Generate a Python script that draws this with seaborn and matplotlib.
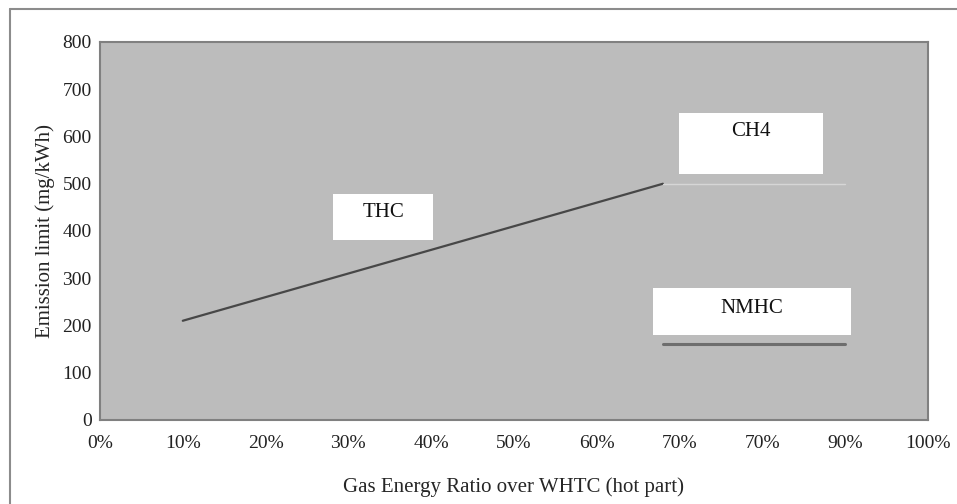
import matplotlib
matplotlib.use("Agg")
import matplotlib.pyplot as plt
import matplotlib.patches as mpatches
from matplotlib.lines import Line2D
import seaborn as sns
import pandas as pd

# data
thc_x = [0.10, 0.68]
thc_y = [210, 500]
ch4_x = [0.68, 0.90]
ch4_y = [500, 500]
nmhc_x = [0.68, 0.90]
nmhc_y = [160, 160]

x_ticks = [0.0, 0.1, 0.2, 0.3, 0.4, 0.5, 0.6, 0.7, 0.8, 0.9, 1.0]
x_labels = ["0%", "10%", "20%", "30%", "40%", "50%", "60%", "70%", "70%", "90%", "100%"]
y_ticks = [0, 100, 200, 300, 400, 500, 600, 700, 800]

df = pd.concat([
    pd.DataFrame({"x": thc_x, "y": thc_y, "series": "THC"}),
    pd.DataFrame({"x": ch4_x, "y": ch4_y, "series": "CH4"}),
    pd.DataFrame({"x": nmhc_x, "y": nmhc_y, "series": "NMHC"}),
])

sns.set_style("white")
plt.rcParams["font.family"] = ["Liberation Serif", "DejaVu Serif"]

fig = plt.figure(figsize=(9.57, 5.04), dpi=100)
ax = fig.add_axes([0.1045, 0.1667, 0.865, 0.75])
ax.set_facecolor("#bcbcbc")

styles = {"THC": ("#474747", 1.6), "CH4": ("#d6d6d6", 1.0), "NMHC": ("#6e6e6e", 2.2)}
for name, (col, lw) in styles.items():
    sns.lineplot(data=df[df["series"] == name], x="x", y="y", color=col,
                 linewidth=lw, ax=ax, legend=False)

ax.set_xlim(0, 1)
ax.set_ylim(0, 800)
ax.set_xticks(x_ticks)
ax.set_xticklabels(x_labels)
ax.set_yticks(y_ticks)
ax.tick_params(axis="both", labelsize=14, colors="#222222", length=4,
               width=1, direction="out", color="#777777")
ax.tick_params(axis="x", pad=7)
ax.tick_params(axis="y", pad=2)
for sp in ax.spines.values():
    sp.set_color("#808080")
    sp.set_linewidth(1.5)

ax.set_xlabel("Gas Energy Ratio over WHTC (hot part)", fontsize=15, labelpad=18)
ax.set_ylabel("Emission limit (mg/kWh)", fontsize=15, labelpad=5)

# white label boxes
boxes = [
    ("THC", 0.2814, 0.476, 0.1208, 0.122, 0.342, 0.548),
    ("CH4", 0.699, 0.651, 0.174, 0.161, 0.786, 0.762),
    ("NMHC", 0.668, 0.225, 0.239, 0.124, 0.787, 0.296),
]
for txt, bx, by, bw, bh, tx, ty in boxes:
    ax.add_patch(mpatches.Rectangle((bx, by), bw, bh, transform=ax.transAxes,
                                    facecolor="white", edgecolor="none", zorder=3))
    ax.text(tx, ty, txt, transform=ax.transAxes, ha="center", va="center",
            fontsize=15, color="#111111", zorder=4)

# outer frame (top and left only)
fig.add_artist(Line2D([10 / 957, 1], [1 - 9 / 504, 1 - 9 / 504],
                      color="#8c8c8c", linewidth=1.5, transform=fig.transFigure))
fig.add_artist(Line2D([10 / 957, 10 / 957], [0, 1 - 9 / 504],
                      color="#8c8c8c", linewidth=1.5, transform=fig.transFigure))

fig.savefig("out.png", dpi=100)
